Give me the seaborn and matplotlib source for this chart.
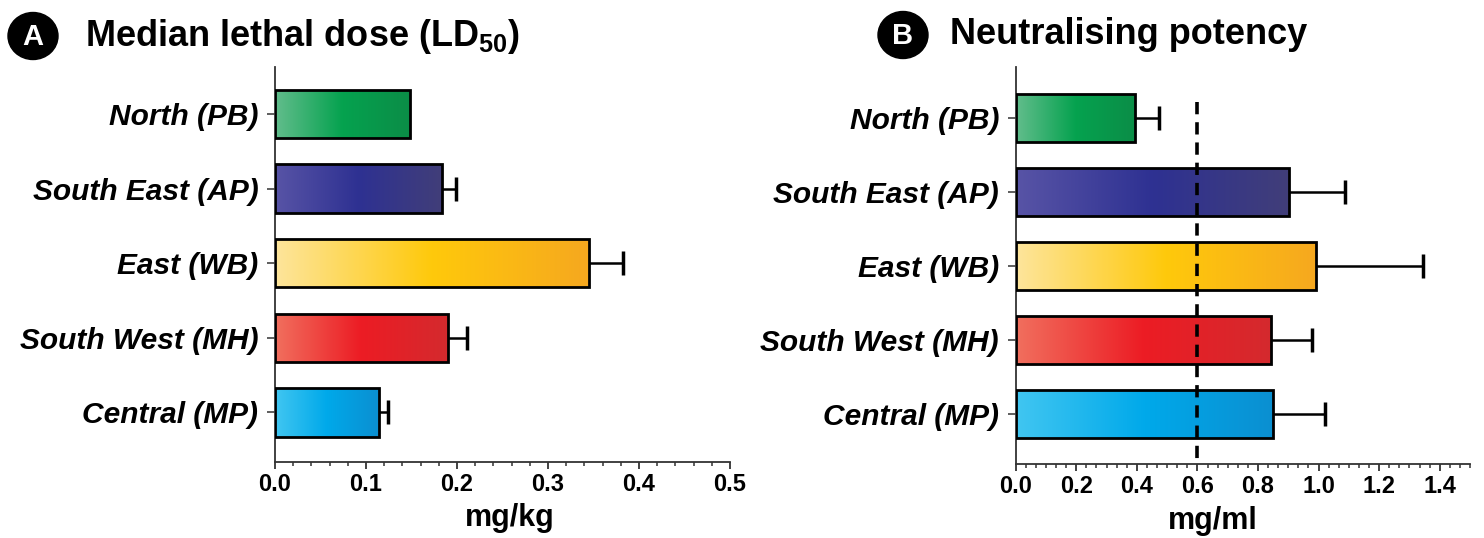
import numpy as np
import pandas as pd
import matplotlib
matplotlib.use("Agg")
import matplotlib.pyplot as plt
import seaborn as sns
from matplotlib.colors import LinearSegmentedColormap
from matplotlib.patches import Ellipse
from matplotlib.ticker import MultipleLocator, FormatStrFormatter

# ---- data -------------------------------------------------------------
regions = ["North (PB)", "South East (AP)", "East (WB)", "South West (MH)", "Central (MP)"]

ld50 = [0.148, 0.183, 0.345, 0.190, 0.114]          # mg/kg
ld50_err = [0.0, 0.016, 0.037, 0.021, 0.010]

potency = [0.393, 0.904, 0.992, 0.843, 0.850]       # mg/ml
potency_err = [0.081, 0.184, 0.353, 0.135, 0.172]
potency_threshold = 0.6

# gradient stops for each region (left -> middle -> right)
shade_light = ["#62bd8c", "#5854a6", "#fde59c", "#f16f5e", "#41c6f1"]
shade_mid = ["#05a24f", "#2e3192", "#ffc90b", "#ec1c24", "#00a9ea"]
shade_dark = ["#0b8d47", "#413e79", "#f6a81f", "#d42a2e", "#0b8fd1"]

# ---- style ------------------------------------------------------------
sns.set_theme(style="ticks")
plt.rcParams["font.family"] = ["Liberation Sans", "DejaVu Sans"]
plt.rcParams["mathtext.fontset"] = "custom"
plt.rcParams["mathtext.bf"] = "Liberation Sans:bold"
plt.rcParams["mathtext.rm"] = "Liberation Sans:bold"
plt.rcParams["mathtext.default"] = "bf"
for key in ("text.color", "axes.labelcolor", "xtick.labelcolor", "ytick.labelcolor"):
    plt.rcParams[key] = "black"

W, H = 1484, 538
fig = plt.figure(figsize=(W / 100, H / 100), dpi=100)
fig.patch.set_facecolor("white")


def px_axes(left, top, right, bottom):
    return fig.add_axes([left / W, 1 - bottom / H, (right - left) / W, (bottom - top) / H])


def draw_panel(ax, values, errors, xmax, major, minor, ylim, xlabel, label_x):
    df = pd.DataFrame({"region": regions, "value": values})
    sns.barplot(data=df, x="value", y="region", hue="region", palette=shade_mid,
                legend=False, orient="h", width=0.65, errorbar=None, saturation=1,
                edgecolor="black", linewidth=2.0, ax=ax)

    # horizontal colour gradient inside every bar
    grad = np.linspace(0, 1, 256)[None, :]
    for bar, lo, mi, hi in zip(ax.patches, shade_light, shade_mid, shade_dark):
        cmap = LinearSegmentedColormap.from_list("bar", [lo, mi, hi])
        x0, y0 = bar.get_x(), bar.get_y()
        w, h = bar.get_width(), bar.get_height()
        im = ax.imshow(grad, cmap=cmap, aspect="auto", interpolation="bicubic",
                       extent=(x0, x0 + w, y0 + h, y0), zorder=2)
        im.set_clip_path(bar)
        bar.set_facecolor("none")
        bar.set_zorder(3)

    # one-sided error bars
    pos = np.arange(len(regions))
    vals = np.asarray(values)
    err = np.asarray(errors)
    m = err > 0
    ax.hlines(pos[m], vals[m], vals[m] + err[m], color="black", lw=1.8, zorder=1)
    ax.plot(vals[m] + err[m], pos[m], ls="none", marker="|", markersize=17,
            markeredgewidth=2.5, color="black", zorder=1)

    ax.set_xlim(0, xmax)
    ax.set_ylim(*ylim)
    ax.xaxis.set_major_locator(MultipleLocator(major))
    ax.xaxis.set_minor_locator(MultipleLocator(minor))
    ax.xaxis.set_major_formatter(FormatStrFormatter("%.1f"))

    sns.despine(ax=ax)
    for s in ("left", "bottom"):
        ax.spines[s].set_linewidth(1.3)
        ax.spines[s].set_color("#333333")

    ax.tick_params(axis="x", which="major", length=5, width=1.3, color="#333333",
                   pad=3, labelsize=17)
    ax.tick_params(axis="x", which="minor", length=3, width=1.1, color="#333333")
    ax.tick_params(axis="y", length=6, width=1.1, color="#333333", pad=6, labelsize=21.5)
    for lab in ax.get_xticklabels():
        lab.set_fontweight("bold")
    for lab in ax.get_yticklabels():
        lab.set_fontweight("bold")
        lab.set_fontstyle("italic")

    ax.set_ylabel("")
    ax.set_xlabel(xlabel, fontsize=22, fontweight="bold")
    ax.xaxis.set_label_coords(label_x, -0.105)
    ax.set_facecolor("white")


axA = px_axes(275, 67, 730, 461.7)
axB = px_axes(1015.7, 67, 1470, 464)

draw_panel(axA, ld50, ld50_err, 0.5, 0.1, 0.02, (4.66, -0.63), "mg/kg", 0.516)
draw_panel(axB, potency, potency_err, 1.5, 0.2, 0.2 / 6, (4.67, -0.69), "mg/ml", 0.434)

# protective threshold
axB.plot([potency_threshold, potency_threshold], [-0.22, 4.67], color="black",
         lw=2.6, ls=(0, (3.4, 2.2)), zorder=6)

# ---- panel headings -----------------------------------------------------
def heading(cx, cy, letter, tx, title):
    fig.add_artist(Ellipse((cx / W, 1 - cy / H), 50 / W, 47 / H,
                           transform=fig.transFigure, color="black"))
    fig.text(cx / W, 1 - (cy + 1) / H, letter, color="white", fontsize=21,
             fontweight="bold", ha="center", va="center")
    fig.text(tx / W, 1 - cy / H, title, fontsize=26, fontweight="bold",
             ha="left", va="center", color="black")


heading(33, 36, "A", 85, r"Median lethal dose (LD$_{50}$)")
heading(903, 35, "B", 950, "Neutralising potency")

fig.savefig("out.png", dpi=100, facecolor="white")
